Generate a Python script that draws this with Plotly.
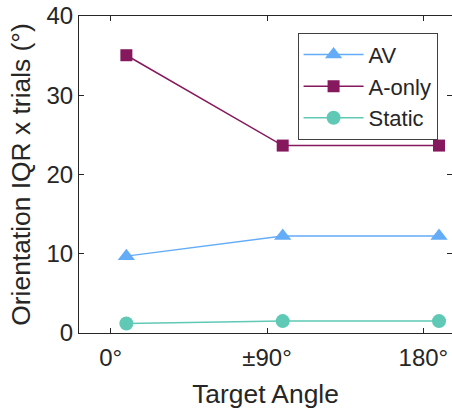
import plotly.graph_objects as go

tick_vals = [1, 2, 3]
tick_labels = ["0°", "±90°", "180°"]
x_pos = [1.1, 2.1, 3.1]

av = [9.7, 12.25, 12.25]
a_only = [35.05, 23.65, 23.65]
static = [1.2, 1.5, 1.5]

series = [
    ("AV", av, "#64acf8", "triangle-up", 15),
    ("A-only", a_only, "#86195e", "square", 12),
    ("Static", static, "#5fc9b6", "circle", 14),
]

fig = go.Figure()
for name, vals, col, sym, sz in series:
    fig.add_trace(go.Scatter(
        x=x_pos, y=vals, name=name, mode="lines+markers",
        line=dict(color=col, width=1.5),
        marker=dict(symbol=sym, size=sz, color=col),
    ))

font = "Liberation Sans, Arial, sans-serif"
fig.update_layout(
    width=452, height=409,
    margin=dict(l=79, r=0, t=16, b=76),
    plot_bgcolor="white", paper_bgcolor="white",
    font=dict(family=font, size=24, color="#262626"),
    showlegend=True,
    legend=dict(x=0.586, y=0.947, xanchor="left", yanchor="top",
                bordercolor="#404040", borderwidth=1, bgcolor="white",
                font=dict(size=22), tracegroupgap=0, itemwidth=60),
    xaxis=dict(range=[0.797, 3.183], tickvals=tick_vals, ticktext=tick_labels,
               ticks="inside", ticklen=5, tickcolor="#262626", showline=True,
               linecolor="#262626", linewidth=1, mirror="ticks", showgrid=False,
               zeroline=False, automargin=False, tickfont=dict(size=24),
               ticklabelstandoff=3,
               title=dict(text="Target Angle", font=dict(size=26.4), standoff=16)),
    yaxis=dict(range=[0, 40], tickvals=[0, 10, 20, 30, 40],
               ticks="inside", ticklen=5, tickcolor="#262626", showline=True,
               linecolor="#262626", linewidth=1, mirror="ticks", showgrid=False,
               zeroline=False, automargin=False, tickfont=dict(size=24),
               title=dict(text="Orientation IQR x trials (°)", font=dict(size=26.4), standoff=8)),
)

fig.write_html("out.html", config={"displayModeBar": False},
               post_script="document.body.style.margin='0';")
